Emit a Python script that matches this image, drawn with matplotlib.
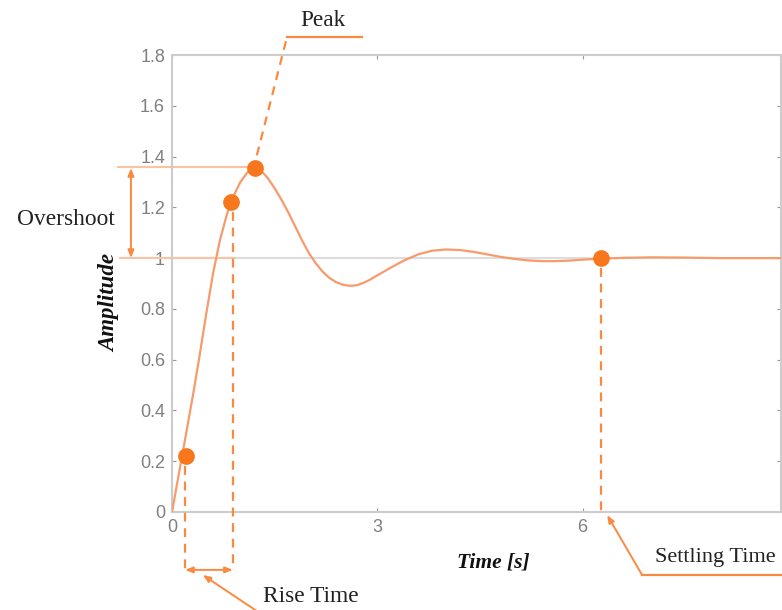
import matplotlib
matplotlib.use("Agg")
import matplotlib.pyplot as plt

# ---- data ----
time_s = [0, 0.1, 0.2, 0.3, 0.4, 0.5, 0.6, 0.7, 0.8, 0.9, 1.0, 1.1, 1.2, 1.3, 1.4,
          1.5, 1.6, 1.7, 1.8, 1.9, 2.0, 2.1, 2.2, 2.3, 2.4, 2.5, 2.6, 2.7, 2.8, 2.9,
          3.0, 3.2, 3.4, 3.6, 3.8, 4.0, 4.2, 4.4, 4.6, 4.8, 5.0, 5.2, 5.4, 5.6, 5.8,
          6.0, 6.3, 6.6, 7.0, 7.5, 8.0, 8.5, 9.0]
amplitude = [0, 0.15, 0.30, 0.45, 0.61, 0.78, 0.94, 1.07, 1.17, 1.245, 1.30, 1.337,
             1.355, 1.345, 1.315, 1.275, 1.23, 1.18, 1.125, 1.07, 1.02, 0.98,
             0.947, 0.922, 0.905, 0.895, 0.891, 0.893, 0.903, 0.916, 0.932, 0.963,
             0.992, 1.015, 1.029, 1.034, 1.032, 1.025, 1.015, 1.005, 0.997, 0.991,
             0.988, 0.988, 0.99, 0.994, 0.998, 1.001, 1.003, 1.002, 1.0, 1.0, 1.0]

rise_start = (0.2, 0.22)
rise_end = (0.86, 1.22)
peak = (1.21, 1.355)
settling = (6.27, 1.0)

xticks = [0, 3, 6]
yticks = [0, 0.2, 0.4, 0.6, 0.8, 1.0, 1.2, 1.4, 1.6, 1.8]
ytick_labels = ["0", "0.2", "0.4", "0.6", "0.8", "1", "1.2", "1.4", "1.6", "1.8"]

# ---- styles ----
curve_c = "#f79a6c"
mark_c = "#f8761c"
dash_c = "#f98a40"
light_c = "#fbc3a0"
tick_c = "#808080"
spine_c = "#cccccc"
serif = ["Liberation Serif", "DejaVu Serif"]
ann_fs = 16.8

fig = plt.figure(figsize=(7.82, 6.10), dpi=100)
ax = fig.add_axes([172 / 782, 98 / 610, 609 / 782, 457 / 610])
ax.set_xlim(0, 8.9)
ax.set_ylim(0, 1.8)

for s in ax.spines.values():
    s.set_color(spine_c)
    s.set_linewidth(1.5)

ax.set_xticks(xticks)
ax.set_yticks(yticks)
ax.set_yticklabels(ytick_labels)
ax.tick_params(direction="in", length=3, width=0.8, color="#999999",
               labelcolor=tick_c, labelsize=13, top=True, right=True, pad=5)
for lab in ax.get_xticklabels() + ax.get_yticklabels():
    lab.set_fontfamily(["Liberation Sans", "DejaVu Sans"])

# reference line at 1
ax.axhline(1.0, color="#dddddd", lw=1.5, zorder=1)

# response curve
ax.plot(time_s, amplitude, color=curve_c, lw=1.6, zorder=3)

# markers
mx = [rise_start[0], rise_end[0], peak[0], settling[0]]
my = [rise_start[1], rise_end[1], peak[1], settling[1]]
ax.plot(mx, my, "o", color=mark_c, ms=11, zorder=5, clip_on=False)

dash = dict(color=dash_c, lw=1.6, ls=(0, (4, 3)), clip_on=False, zorder=4)
solid = dict(color=dash_c, lw=1.6, clip_on=False, zorder=4)

# overshoot guides
ax.plot([-0.79, peak[0]], [1.36, 1.36], color=light_c, lw=1.5, clip_on=False, zorder=2)
ax.plot([-0.76, 0.92], [1.0, 1.0], color=light_c, lw=1.5, clip_on=False, zorder=2)
ax.annotate("", xy=(-0.60, 1.355), xytext=(-0.60, 1.0), annotation_clip=False,
            arrowprops=dict(arrowstyle="<|-|>,head_length=0.45,head_width=0.18",
                            color=dash_c, lw=1.4, shrinkA=0, shrinkB=0))
ax.text(-2.27, 1.154, "Overshoot", fontsize=ann_fs, family=serif, va="center",
        ha="left", color="#222222")

# peak leader
ax.plot([peak[0] + 0.03, 1.68], [peak[1] + 0.05, 1.87], **dash)
ax.plot([1.68, 2.78], [1.87, 1.87], **solid)
ax.text(1.87, 1.935, "Peak", fontsize=ann_fs, family=serif, va="center",
        ha="left", color="#222222")

# rise time
yb = -0.228
ax.plot([0.19, 0.19], [rise_start[1] - 0.04, yb], **dash)
ax.plot([0.89, 0.89], [rise_end[1] - 0.04, yb], **dash)
ax.annotate("", xy=(0.19, yb), xytext=(0.89, yb), annotation_clip=False,
            arrowprops=dict(arrowstyle="<|-|>,head_length=0.45,head_width=0.18",
                            color=dash_c, lw=1.4, shrinkA=0, shrinkB=0))
ax.annotate("", xy=(0.45, -0.248), xytext=(1.35, -0.41), annotation_clip=False,
            arrowprops=dict(arrowstyle="-|>,head_length=0.45,head_width=0.18",
                            color=dash_c, lw=1.4, shrinkA=0, shrinkB=0))
ax.text(1.33, -0.331, "Rise Time", fontsize=ann_fs, family=serif, va="center",
        ha="left", color="#222222")

# settling time
ax.plot([settling[0], settling[0]], [settling[1] - 0.04, 0], **dash)
ax.annotate("", xy=(6.36, -0.012), xytext=(6.87, -0.248), annotation_clip=False,
            arrowprops=dict(arrowstyle="-|>,head_length=0.45,head_width=0.18",
                            color=dash_c, lw=1.4, shrinkA=0, shrinkB=0))
ax.plot([6.87, 9.2], [-0.248, -0.248], **solid)
ax.text(7.06, -0.181, "Settling Time", fontsize=16, family=serif, va="center",
        ha="left", color="#222222")

# axis labels
ax.text(4.69, -0.197, "Time [s]", fontsize=15.5, family=serif, style="italic",
        weight="bold", ha="center", va="center", color="#111111")
ax.text(-0.906, 0.823, "Amplitude", fontsize=16.5, family=serif, style="italic",
        weight="bold", ha="center", va="center", rotation=90, color="#111111")

fig.savefig("out.png", dpi=100)
